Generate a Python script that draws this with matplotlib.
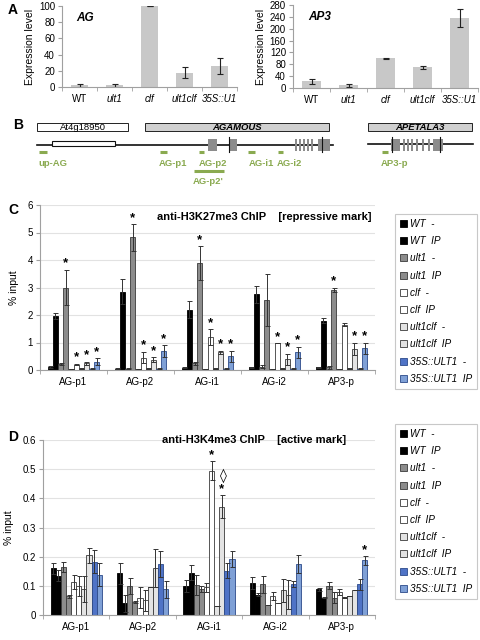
import numpy as np
import matplotlib
matplotlib.use('Agg')
import matplotlib.pyplot as plt
from matplotlib.patches import Rectangle, Patch

plt.rcParams['font.family'] = ['Liberation Sans', 'DejaVu Sans']

# ---- data ----
genotypes = ['WT', 'ult1', 'clf', 'ult1clf', '35S::U1']
ag_expr = [2, 2, 100, 17.5, 26]
ag_err = [1.5, 1.5, 0.3, 7, 10]
ap3_expr = [22, 10, 100, 70, 235]
ap3_err = [10, 5, 0.5, 5, 30]

regions = ['AG-p1', 'AG-p2', 'AG-i1', 'AG-i2', 'AP3-p']
series = ['WT  -', 'WT  IP', 'ult1  -', 'ult1  IP', 'clf  -', 'clf  IP',
          'ult1clf  -', 'ult1clf  IP', '35S::ULT1  -', '35S::ULT1  IP']

# H3K27me3, one row per series
k27_mean = [
    [0.12, 0.05, 0.08, 0.10, 0.10],
    [1.97, 2.85, 2.20, 2.75, 1.80],
    [0.22, 0.05, 0.25, 0.12, 0.10],
    [3.00, 4.82, 3.88, 2.55, 2.90],
    [0.03, 0.03, 0.03, 0.03, 0.03],
    [0.20, 0.45, 1.20, 0.97, 1.65],
    [0.05, 0.05, 0.05, 0.05, 0.05],
    [0.25, 0.38, 0.65, 0.40, 0.78],
    [0.05, 0.05, 0.05, 0.05, 0.05],
    [0.30, 0.68, 0.50, 0.65, 0.80],
]
k27_err = [
    [0.03, 0.02, 0.02, 0.02, 0.02],
    [0.12, 0.45, 0.30, 0.30, 0.10],
    [0.05, 0.02, 0.05, 0.05, 0.05],
    [0.65, 0.48, 0.62, 0.95, 0.08],
    [0.01, 0.01, 0.01, 0.01, 0.01],
    [0.02, 0.20, 0.28, 0.00, 0.05],
    [0.02, 0.02, 0.02, 0.02, 0.02],
    [0.05, 0.08, 0.05, 0.20, 0.22],
    [0.02, 0.02, 0.02, 0.02, 0.02],
    [0.12, 0.22, 0.20, 0.20, 0.20],
]
k27_stars = [(3, 0), (5, 0), (7, 0), (9, 0),
             (3, 1), (5, 1), (7, 1), (9, 1),
             (3, 2), (5, 2), (7, 2), (9, 2),
             (5, 3), (7, 3), (9, 3),
             (3, 4), (7, 4), (9, 4)]

# H3K4me3
k4_mean = [
    [0.160, 0.143, 0.100, 0.110, 0.088],
    [0.135, 0.040, 0.145, 0.070, 0.060],
    [0.165, 0.100, 0.103, 0.105, 0.100],
    [0.065, 0.045, 0.090, 0.035, 0.060],
    [0.113, 0.060, 0.095, 0.065, 0.080],
    [0.100, 0.050, 0.495, 0.040, 0.060],
    [0.090, 0.095, 0.030, 0.085, 0.065],
    [0.205, 0.160, 0.372, 0.070, 0.085],
    [0.183, 0.175, 0.152, 0.105, 0.105],
    [0.138, 0.088, 0.193, 0.175, 0.187],
]
k4_err = [
    [0.020, 0.035, 0.020, 0.020, 0.005],
    [0.020, 0.030, 0.025, 0.005, 0.003],
    [0.018, 0.028, 0.035, 0.030, 0.012],
    [0.005, 0.003, 0.010, 0.000, 0.020],
    [0.025, 0.037, 0.015, 0.015, 0.010],
    [0.035, 0.035, 0.033, 0.000, 0.002],
    [0.045, 0.000, 0.000, 0.040, 0.000],
    [0.025, 0.065, 0.038, 0.050, 0.000],
    [0.040, 0.045, 0.025, 0.010, 0.020],
    [0.040, 0.030, 0.028, 0.030, 0.015],
]
k4_stars = [(5, 2), (7, 2), (9, 4)]
k4_diamond = [(7, 2)]

face = ['#000000', '#000000', '#8c8c8c', '#8c8c8c', '#ffffff', '#ffffff',
        '#e3e3e3', '#e3e3e3', '#4f73c6', '#7fa0d6']
edge = ['#000000', '#000000', '#3a3a3a', '#3a3a3a', '#3a3a3a', '#3a3a3a',
        '#3a3a3a', '#3a3a3a', '#2c4a8a', '#2c4a8a']
green = '#8aaa50'

W, H = 480, 640
fig = plt.figure(figsize=(4.8, 6.4), dpi=100)


def rect(x0, y0, x1, y1):
    return [x0 / W, 1 - y1 / H, (x1 - x0) / W, (y1 - y0) / H]


def excel_axes(ax, n):
    for s in ['top', 'right']:
        ax.spines[s].set_visible(False)
    for s in ['left', 'bottom']:
        ax.spines[s].set_color('#a0a0a0')
        ax.spines[s].set_linewidth(0.8)
    ax.set_xlim(-0.5, n - 0.5)
    ax.set_xticks(range(n))
    ax.set_xticks(np.arange(-0.5, n, 1), minor=True)
    ax.tick_params(axis='x', which='major', length=0, labelsize=7, pad=5)
    ax.tick_params(axis='x', which='minor', length=3, color='#a0a0a0')
    ax.tick_params(axis='y', length=3, color='#a0a0a0', labelsize=7, pad=2)


# ---- panel A ----
for box, vals, errs, ymax, step, name in [
        ((62, 6, 237, 87), ag_expr, ag_err, 100, 20, 'AG'),
        ((293, 5, 478, 88), ap3_expr, ap3_err, 280, 40, 'AP3')]:
    ax = fig.add_axes(rect(*box))
    x = np.arange(len(genotypes))
    ax.bar(x, vals, 0.5, color='#c8c8c8')
    ax.errorbar(x, vals, yerr=errs, fmt='none', ecolor='#222222',
                elinewidth=0.8, capsize=2.5, capthick=0.8)
    excel_axes(ax, len(genotypes))
    ax.set_ylim(0, ymax)
    ax.set_yticks(np.arange(0, ymax + 1, step))
    ax.set_xticklabels(genotypes)
    for i, t in enumerate(ax.get_xticklabels()):
        if i > 0:
            t.set_style('italic')
    ax.set_ylabel('Expression level', fontsize=7.5, labelpad=3)
    ax.text(0.08, 0.93, name, transform=ax.transAxes, fontsize=8.5,
            style='italic', fontweight='bold', va='top')

fig.text(8 / W, 1 - 10 / H, 'A', fontsize=10, fontweight='bold', va='center')

# ---- panel B (gene diagram) ----
axb = fig.add_axes(rect(0, 110, 480, 195))
axb.set_xlim(0, W)
axb.set_ylim(195, 110)
axb.axis('off')
fig.text(13 / W, 1 - 125 / H, 'B', fontsize=10, fontweight='bold', va='center')

boxes = [(37, 128, 'At4g18950', 'white', 'normal'),
         (145, 329, 'AGAMOUS', '#d0d0d0', 'italic'),
         (368, 472, 'APETALA3', '#d0d0d0', 'italic')]
for x0, x1, lab, fc, st in boxes:
    axb.add_patch(Rectangle((x0, 123), x1 - x0, 8, fc=fc, ec='#222222', lw=0.7))
    axb.text((x0 + x1) / 2, 127, lab, fontsize=6.8, ha='center', va='center',
             style=st, fontweight='bold' if st == 'italic' else 'normal')

axb.plot([37, 333], [145, 145], color='#111111', lw=1.2)
axb.plot([368, 473], [144, 144], color='#111111', lw=1.2)
axb.add_patch(Rectangle((52, 141), 63, 5, fc='white', ec='#111111', lw=0.8, zorder=3))
exons = [(208, 9), (230, 7), (295, 2), (299, 2), (303, 2), (307, 2), (311, 2),
         (318, 12), (391, 9), (403, 2), (407, 2), (411, 2), (416, 2),
         (422, 2), (428, 2), (433, 10)]
for x0, w in exons:
    yc = 144.5
    axb.add_patch(Rectangle((x0, yc - 6), w, 12, fc='#8c8c8c', ec='none', zorder=3))
for xl in [229, 322, 392, 440]:
    axb.plot([xl, xl], [137, 152], color='#111111', lw=0.8, zorder=4)

markers = [(39, 47, 'up-AG', 38, 'left'), (160, 167, 'AG-p1', 173, 'center'),
           (199, 204, 'AG-p2', 213, 'center'), (248, 255, 'AG-i1', 261, 'center'),
           (278, 283, 'AG-i2', 289, 'center'), (382, 388, 'AP3-p', 395, 'center')]
for x0, x1, lab, xt, ha in markers:
    axb.plot([x0, x1], [152, 152], color=green, lw=2.2, solid_capstyle='butt')
    axb.text(xt, 164, lab, fontsize=6.8, color=green, fontweight='bold',
             ha=ha, va='center')
axb.plot([194, 224], [171, 171], color=green, lw=2.2, solid_capstyle='butt')
axb.text(208, 182, "AG-p2'", fontsize=6.8, color=green, fontweight='bold',
         ha='center', va='center')


# ---- panels C and D ----
def chip_panel(box, means, errs, stars, ymax, step, fmt, title, title_xy, legbox,
               letter, letter_y, star_off, diamond_off=0, diamonds=()):
    ax = fig.add_axes(rect(*box))
    n = len(regions)
    w = 0.077
    x = np.arange(n)
    for s in range(len(series)):
        xs = x + (s - 4.5) * w
        ax.bar(xs, means[s], w, color=face[s], edgecolor=edge[s], linewidth=0.6,
               zorder=2, label=series[s])
        ax.errorbar(xs, means[s], yerr=errs[s], fmt='none', ecolor='#333333',
                    elinewidth=0.7, capsize=1.8, capthick=0.7, zorder=3)
    for s, r in stars:
        xs = r + (s - 4.5) * w
        ax.text(xs, means[s][r] + errs[s][r] + star_off, '*', fontsize=9.5,
                fontweight='bold', ha='center', va='bottom')
    for s, r in diamonds:
        xs = r + (s - 4.5) * w
        ax.text(xs + 0.03, means[s][r] + errs[s][r] + diamond_off, '\u25ca',
                fontsize=10, ha='center', va='center', family='DejaVu Sans')
    excel_axes(ax, n)
    ax.set_ylim(0, ymax)
    ax.set_yticks(np.arange(0, ymax + step / 2, step))
    ax.set_yticklabels([fmt.format(v) for v in np.arange(0, ymax + step / 2, step)])
    ax.yaxis.grid(True, color='#e2e2e2', lw=0.8, zorder=0)
    ax.set_axisbelow(True)
    ax.set_xticklabels(regions)
    ax.set_ylabel('% input', fontsize=7.5, labelpad=6)
    ax.text(title_xy[0], title_xy[1], title, transform=ax.transAxes, fontsize=8,
            fontweight='bold', ha='center', va='center')
    handles = [Patch(fc=face[s], ec=edge[s], lw=0.6) for s in range(len(series))]
    leg = fig.legend(handles, series, loc='upper left',
                     bbox_to_anchor=(legbox[0] / W, 1 - legbox[1] / H),
                     prop={'style': 'italic', 'size': 7.2},
                     handlelength=0.7, handleheight=0.7, handletextpad=0.3,
                     labelspacing=0.72, borderpad=0.5, fancybox=False,
                     edgecolor='#c8c8c8', framealpha=1)
    leg.get_frame().set_linewidth(0.8)
    fig.text(8 / W, 1 - letter_y / H, letter, fontsize=10, fontweight='bold',
             va='center')
    return ax


chip_panel((40, 205, 375, 370), k27_mean, k27_err, k27_stars, 6, 1, '{:.0f}',
           'anti-H3K27me3 ChIP    [repressive mark]', (0.67, 0.93), (390, 209),
           'C', 210, 0.02)
chip_panel((43, 440, 375, 615), k4_mean, k4_err, k4_stars, 0.6, 0.1, '{:g}',
           'anti-H3K4me3 ChIP    [active mark]', (0.635, 1.0), (390, 419),
           'D', 437, 0.0, diamond_off=0.066, diamonds=k4_diamond)

fig.savefig('out.png', dpi=100)
